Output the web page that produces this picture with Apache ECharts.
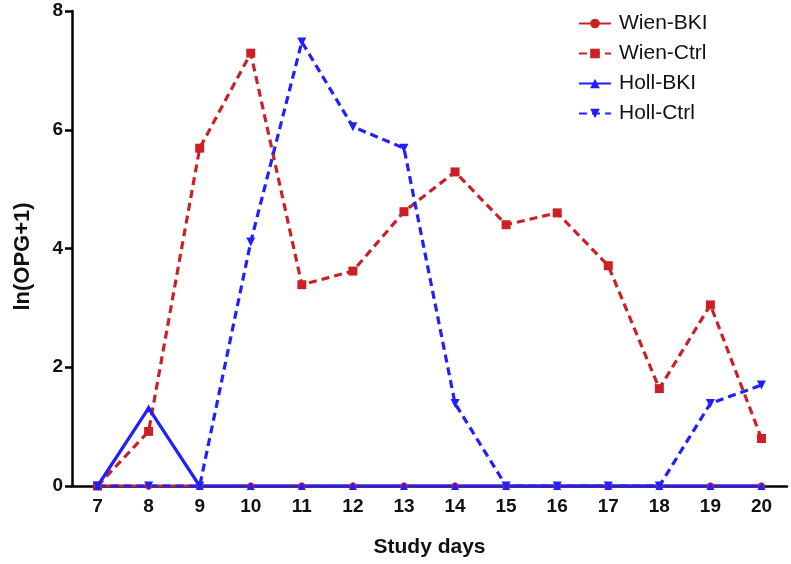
<!DOCTYPE html>
<html><head><meta charset="utf-8">
<script src="https://cdn.jsdelivr.net/npm/echarts@6/dist/echarts.min.js"></script>
<style>html,body{margin:0;padding:0;background:#fff}#c{width:791px;height:564px}</style>
</head><body><div id="c"></div>
<script>
const days = ['7','8','9','10','11','12','13','14','15','16','17','18','19','20'];
const wienBKI  = [0,0,0,0,0,0,0,0,0,0,0,0,0,0];
const wienCtrl = [0,0.92,5.69,7.29,3.39,3.62,4.62,5.29,4.4,4.6,3.71,1.64,3.05,0.8];
const hollBKI  = [0,1.31,0,0,0,0,0,0,0,0,0,0,0,0];
const hollCtrl = [0,0,0,4.11,7.48,6.05,5.69,1.39,0,0,0,0,1.39,1.7];
const yTicks = [0,2,4,6,8];

const RED = '#cc2027', BLUE = '#1f1fff';
const font = '"Liberation Sans", Arial, sans-serif';
function s(name, data, color, symbol, dashed, size) {
  return {
    name, type: 'line', data, symbol, symbolSize: size, color,
    lineStyle: {color, width: 3.2, type: dashed ? [8,5] : 'solid'},
    itemStyle: {color}, animation: false
  };
}
const chart = echarts.init(document.getElementById('c'), null, {renderer: 'canvas'});
chart.setOption({
  backgroundColor: '#fff',
  grid: {left: 72, right: 4, top: 11, bottom: 78, containLabel: false, outerBoundsMode: 'none'},
  legend: {
    orient: 'vertical', left: 573, top: 8, itemWidth: 32, itemHeight: 12, itemGap: 9,
    textStyle: {fontFamily: font, fontSize: 21, color: '#111', padding: [0,0,0,3]},
    data: ['Wien-BKI','Wien-Ctrl','Holl-BKI','Holl-Ctrl']
  },
  xAxis: {
    type: 'category', data: days, boundaryGap: true,
    name: 'Study days', nameLocation: 'middle', nameGap: 51,
    nameTextStyle: {fontFamily: font, fontSize: 21, fontWeight: 'bold', color: '#111'},
    axisLine: {lineStyle: {color: '#000', width: 2.5}},
    axisTick: {alignWithLabel: true, length: 6, lineStyle: {color: '#000', width: 2.5}},
    axisLabel: {fontFamily: font, fontSize: 19, fontWeight: 'bold', color: '#111', margin: 11}
  },
  yAxis: {
    type: 'value', min: 0, max: 8, interval: 2,
    name: 'ln(OPG+1)', nameLocation: 'middle', nameGap: 38,
    nameTextStyle: {fontFamily: font, fontSize: 22, fontWeight: 'bold', color: '#111', padding: [0,16,0,0]},
    axisLine: {show: true, lineStyle: {color: '#000', width: 2.5}},
    axisTick: {show: true, length: 7, lineStyle: {color: '#000', width: 2.5}},
    axisLabel: {fontFamily: font, fontSize: 19, fontWeight: 'bold', color: '#111', margin: 9,
      formatter: v => yTicks.includes(v) ? String(v) : ''},
    splitLine: {show: false}
  },
  series: [
    s('Wien-BKI', wienBKI, RED, 'circle', false, 7),
    s('Wien-Ctrl', wienCtrl, RED, 'rect', true, 9),
    s('Holl-BKI', hollBKI, BLUE, 'triangle', false, 8),
    s('Holl-Ctrl', hollCtrl, BLUE, 'path://M0,0 L10,0 L5,10 Z', true, 9)
  ]
});
</script></body></html>
